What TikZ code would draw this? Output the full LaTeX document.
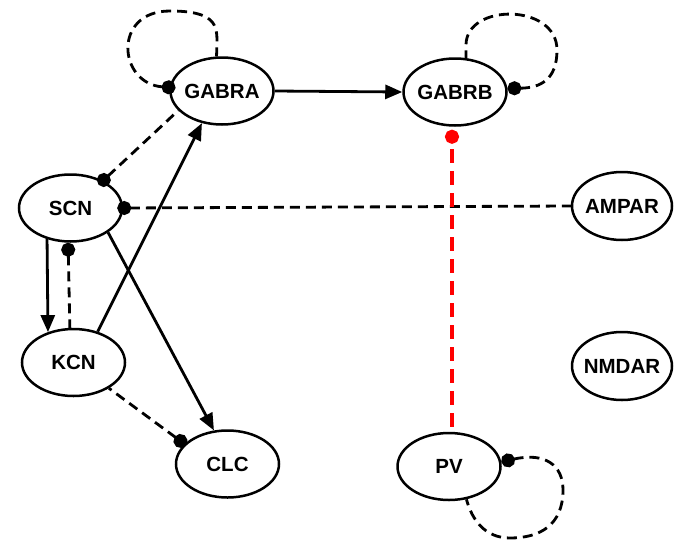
\documentclass[tikz,border=0pt]{standalone}
\usepackage{fontspec}
\setmainfont{Liberation Sans}
\usetikzlibrary{arrows.meta,shapes.geometric}
% zero-width box so the ellipse size is set only by the minimum dimensions
\newcommand{\ctext}[1]{\makebox[0pt][c]{#1}}
\begin{document}
\begin{tikzpicture}[x=1pt,y=-1pt,
  gene/.style={ellipse, draw, line width=2.5pt, minimum width=103pt,
    minimum height=67pt, inner sep=0pt,
    font=\fontsize{20.5}{24}\selectfont\bfseries},
  link/.style={line width=2.8pt},
  act/.style={link, -{Triangle[length=17pt,width=14pt]}},
  inh/.style={link, dash pattern=on 10pt off 6pt, {Circle[length=14pt]}-},
  strong/.style={line width=4.8pt, red, dash pattern=on 14pt off 8pt,
    dash phase=14pt, {Circle[length=14pt]}-},
]
\useasboundingbox (0,0) rectangle (676,541);

% genes
\node[gene] (GABRA) at (222,91) {\ctext{GABRA}};
\node[gene] (GABRB) at (455,92) {\ctext{GABRB}};
\node[gene] (SCN)   at (70.5,208) {\ctext{SCN}};
\node[gene, minimum width=100pt, minimum height=68pt] (AMPAR) at (622,206) {\ctext{AMPAR}};
\node[gene] (KCN)   at (73.5,362.5) {\ctext{KCN}};
\node[gene, minimum width=100pt, minimum height=68pt] (NMDAR) at (622,366) {\ctext{NMDAR}};
\node[gene] (CLC)   at (227.5,464) {\ctext{CLC}};
\node[gene] (PV)    at (449,466.5) {\ctext{PV}};

% activating links
\draw[act] (GABRA.east) -- (GABRB.west);
\draw[act] (SCN.-127) -- (KCN.130);
\draw[act] (KCN.52) -- (GABRA.-122);
\draw[act] (SCN.-33) -- (CLC.112);

% inhibiting links
\draw[inh, shorten <=-6pt] (SCN.40) -- (GABRA.204);
\draw[inh, shorten <=-6pt] (SCN.east) -- (AMPAR.west);
\draw[inh] (SCN.-94) -- (KCN.96);
\draw[inh, shorten <=-2pt] (CLC.155) -- (KCN.-36);

% self loops
\draw[inh, shorten <=-6pt] (GABRA.176) .. controls (118,84) and (112,11) .. (170,11)
  .. controls (215,11) and (217,25) .. (217,42) -- (GABRA.99);
\draw[inh] (GABRB.4) .. controls (540,88) and (557,80) .. (557,50)
  .. controls (557,3) and (466,3) .. (466,45) -- (GABRB.72);
\draw[inh] (PV.5) .. controls (545,452) and (563,465) .. (563,490)
  .. controls (563,525) and (540,538) .. (510,538)
  .. controls (485,538) and (472,520) .. (PV.-62);

% strong link
\draw[strong, shorten <=3pt] ([xshift=-3pt]GABRB.south) -- ([xshift=3pt]PV.north);
\end{tikzpicture}
\end{document}
